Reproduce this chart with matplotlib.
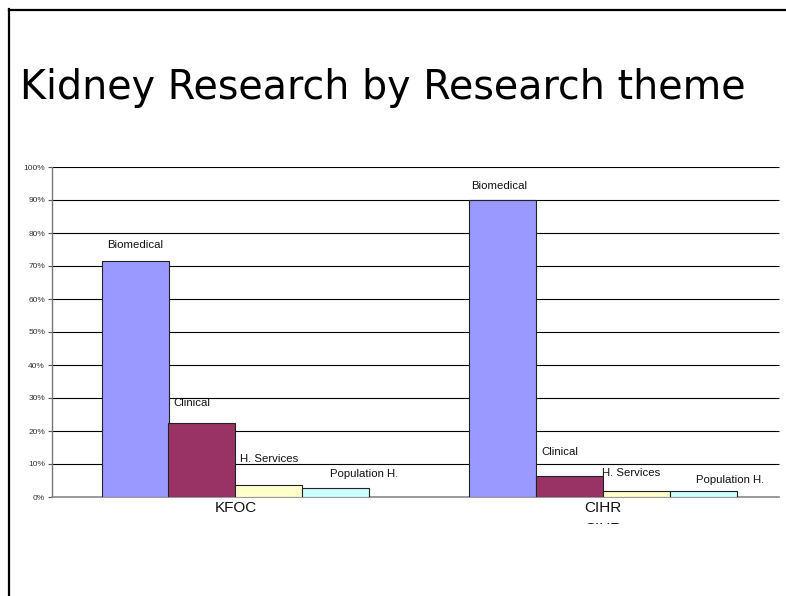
import matplotlib.pyplot as plt
from matplotlib.lines import Line2D
from matplotlib.patches import Rectangle
import numpy as np

groups = ["KFOC", "CIHR"]
themes = ["Biomedical", "Clinical", "H. Services", "Population H."]
values = [
    [71.5, 22.5, 3.6, 2.7],   # KFOC
    [90.0, 6.4, 1.8, 1.8],    # CIHR
]
colors = ["#9999FF", "#993366", "#FFFFCC", "#CCFFFF"]
# label offsets (pixels) from top centre of each bar
label_offsets = [
    [(0, 16), (-10, 20), (0, 26), (28, 14)],
    [(-3, 14), (-9, 24), (-5, 18), (27, 11)],
]
yticks = np.arange(0, 101, 10)

W, H = 786, 596
fig = plt.figure(figsize=(W / 100, H / 100), dpi=100)

# slide frame
fig.add_artist(Line2D([9 / W, 9 / W], [0, 1 - 9 / H], color="black", lw=1.6))
fig.add_artist(Line2D([9 / W, 1], [1 - 10 / H, 1 - 10 / H], color="black", lw=1.6))

fig.text(20 / W, 1 - 88 / H, "Kidney Research by Research theme",
         fontsize=28.5, family="DejaVu Sans", va="center", ha="left")

# axes extends a little past the visible gridlines (clipped on the slide)
ax = fig.add_axes([52 / W, 1 - 497 / H, 734 / W, 330 / H])
ax.set_xlim(0, 2)
ax.set_ylim(0, 100)

width = 67 / 367
for g, vals in enumerate(values):
    for i, v in enumerate(vals):
        x = g + 0.5 + (i - 1.5) * width
        ax.bar(x, v, width=width, color=colors[i], edgecolor="#222222",
               linewidth=0.8, zorder=3)
        dx, dy = label_offsets[g][i]
        ax.annotate(themes[i], (x, v), xytext=(dx, dy), textcoords="offset pixels",
                    ha="center", va="center", fontsize=8.2, family="Liberation Sans",
                    color="#111111", zorder=4)

grid_end = 727 / 734
ax.hlines(yticks[1:], 0, grid_end * 2, color="black", lw=0.8, zorder=1)

ax.set_yticks(yticks)
ax.set_yticklabels([f"{t}%" for t in yticks], fontsize=6, family="Liberation Sans",
                   color="#333333")
ax.tick_params(axis="y", length=3, width=0.8, color="#555555", pad=2)
ax.set_xticks([0.5, 1.5])
ax.set_xticklabels(groups, fontsize=11, family="Liberation Sans", color="#111111")
ax.tick_params(axis="x", length=0, pad=3)
for s in ["top", "right"]:
    ax.spines[s].set_visible(False)
ax.spines["left"].set_color("#777777")
ax.spines["bottom"].set_color("#888888")
ax.spines["left"].set_linewidth(1.0)
ax.spines["bottom"].set_linewidth(1.2)
ax.spines["bottom"].set_bounds(0, grid_end * 2)

# duplicated, clipped category label under CIHR
dup = fig.text(ax.transData.transform((1.5, 0))[0] / W, 1 - 529 / H, "CIHR",
               fontsize=11, family="Liberation Sans", ha="center", va="center",
               color="#111111")
dup.set_clip_path(Rectangle((0, H - 524), W, 524, transform=None))

fig.savefig("out.png", dpi=100)
